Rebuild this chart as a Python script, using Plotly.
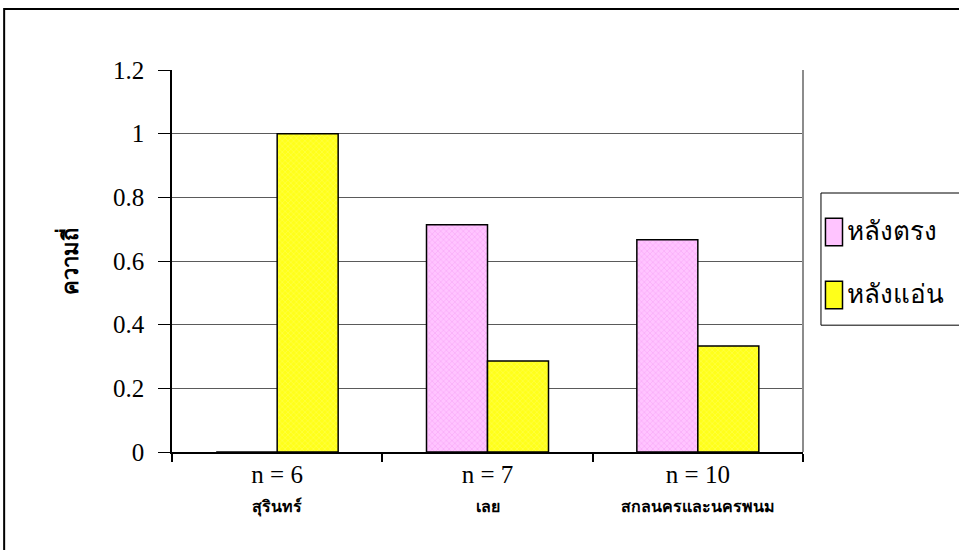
import plotly.graph_objects as go

# Frequency of back posture by district group
categories = ["สุรินทร์", "เลย", "สกลนครและนครพนม"]
sample_sizes = [6, 7, 10]
series_names = ["หลังตรง", "หลังแอ่น"]
straight_back = [0.0, 0.714, 0.667]
sway_back = [1.0, 0.286, 0.333]
y_ticks = [0, 0.2, 0.4, 0.6, 0.8, 1.0, 1.2]
y_tick_text = ["0", "0.2", "0.4", "0.6", "0.8", "1", "1.2"]

PINK_BG = "#FFC4FF"
PINK_FG = "#F08CF0"
YELLOW_BG = "#FFFF1A"
YELLOW_FG = "#FFFF80"
SERIF = "Liberation Serif, Times New Roman, serif"

tick_labels = [
    f"<span style='font-size:25px'>n = {n}</span><br>"
    f"<span style='font-size:16px'><b>{c}</b></span>"
    for n, c in zip(sample_sizes, categories)
]

fig = go.Figure()
fig.add_trace(go.Bar(
    x=tick_labels, y=straight_back, name=series_names[0],
    marker=dict(color=PINK_BG, line=dict(color="black", width=1.5),
                pattern=dict(shape="x", fgcolor=PINK_FG, size=4, solidity=0.3)),
))
fig.add_trace(go.Bar(
    x=tick_labels, y=sway_back, name=series_names[1],
    marker=dict(color=YELLOW_BG, line=dict(color="black", width=1.5),
                pattern=dict(shape="x", fgcolor=YELLOW_FG, size=4, solidity=0.3)),
))

# Hand-built legend box at the right of the plot
legend_colors = [PINK_BG, YELLOW_BG]
shapes = [
    # outer frame around the whole chart
    dict(type="rect", xref="paper", yref="paper", x0=-0.266, x1=1.4, y0=-0.4, y1=1.16,
         line=dict(color="black", width=2), fillcolor="rgba(0,0,0,0)", layer="below"),
    # plot area frame (right side in gray)
    dict(type="line", xref="paper", yref="paper", x0=1, x1=1, y0=0, y1=1,
         line=dict(color="#8c8c8c", width=2)),
    # legend frame
    dict(type="rect", xref="paper", yref="paper", x0=1.0285, x1=1.3, y0=0.332, y1=0.678,
         line=dict(color="black", width=1), fillcolor="white"),
]
annotations = []
legend_y = [0.576, 0.411]
for name, col, ly in zip(series_names, legend_colors, legend_y):
    shapes.append(dict(type="rect", xref="paper", yref="paper",
                       x0=1.0356, x1=1.0626, y0=ly - 0.036, y1=ly + 0.036,
                       line=dict(color="black", width=1.5), fillcolor=col))
    annotations.append(dict(xref="paper", yref="paper", x=1.066, y=ly, text=name,
                            showarrow=False, xanchor="left", yanchor="middle",
                            font=dict(size=26, color="black", family=SERIF)))

fig.update_layout(
    width=959, height=550,
    margin=dict(l=172, r=156, t=70, b=98, autoexpand=False),
    paper_bgcolor="white", plot_bgcolor="white",
    barmode="group", bargap=0.42, bargroupgap=0,
    showlegend=False,
    font=dict(family=SERIF, color="black"),
    shapes=shapes, annotations=annotations,
)
fig.update_xaxes(
    type="category", showline=True, linecolor="black", linewidth=1.5,
    ticks="outside", tickson="boundaries", ticklen=8, tickcolor="black", tickwidth=1.5,
    tickfont=dict(size=22, family=SERIF, color="black"), ticklabelstandoff=3,
    showgrid=False,
)
fig.update_yaxes(
    range=[0, 1.2], tickvals=y_ticks, ticktext=y_tick_text,
    showline=True, linecolor="black", linewidth=1.5,
    ticks="outside", ticklen=12, tickcolor="black", tickwidth=1,
    tickfont=dict(size=25, family=SERIF, color="black"), ticklabelstandoff=9,
    showgrid=True, gridcolor="#5a5a5a", gridwidth=1, zeroline=False,
    title=dict(text="<b>ความถี่</b>", font=dict(size=22, family=SERIF, color="black"),
               standoff=28),
)

fig.write_html("out.html")
